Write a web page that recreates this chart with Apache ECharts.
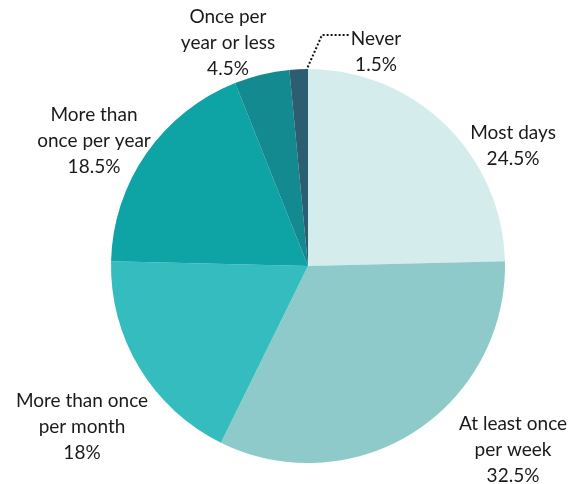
<!DOCTYPE html>
<html><head><meta charset="utf-8">
<script src="https://cdn.jsdelivr.net/npm/echarts@6/dist/echarts.min.js"></script>
<style>html,body{margin:0;padding:0;background:#fff}#c{width:573px;height:484px}</style>
</head><body><div id="c"></div>
<script>
const categories = ['Most days','At least once\nper week','More than once\nper month','More than\nonce per year','Once per\nyear or less','Never'];
const values = [24.5, 32.5, 18, 18.5, 4.5, 1.5];
const valueLabels = ['24.5%','32.5%','18%','18.5%','4.5%','1.5%'];
const colors = ['#d5ecec','#8fcaca','#35bcbf','#0ea3a4','#138a8f','#2c5d70'];
const labelPos = [[513,146],[513,450],[82,427],[94,141],[228,43],[376,52]];

const chart = echarts.init(document.getElementById('c'), null, {renderer:'canvas'});
const data = categories.map((c,i)=>({
  name:c, value:values[i],
  itemStyle:{color:colors[i]},
  labelLine: i===5 ? {show:true, lineStyle:{type:'dotted', color:'#111', width:2}} : {show:false}
}));
chart.setOption({
  animation:false,
  series:[{
    type:'pie',
    center:[308,266],
    radius:197,
    startAngle:90,
    clockwise:true,
    data:data,
    label:{
      show:true, position:'outside', overflow:'none', alignTo:'none',
      formatter:p=>p.name+'\n'+valueLabels[p.dataIndex],
      fontFamily:'Lato', fontSize:19, color:'#1a1a1a', lineHeight:26, align:'center'
    },
    labelLayout:function(p){
      const i=p.dataIndex;
      const o={x:labelPos[i][0], y:labelPos[i][1], align:'center', verticalAlign:'middle', width:200};
      if(i===5) o.labelLinePoints=[[306,71],[322,35],[350,35]];
      return o;
    },
    emphasis:{disabled:true}
  }]
});
</script></body></html>
